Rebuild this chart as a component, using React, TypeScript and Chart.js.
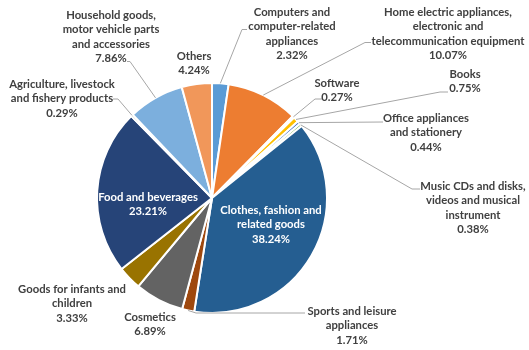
import { useEffect, useRef } from 'react';
import { Chart, registerables } from 'chart.js';

Chart.register(...registerables);

// ---- Data ----
const categories: string[][] = [
  ['Computers and', 'computer-related', 'appliances'],
  ['Home electric appliances,', 'electronic and', 'telecommunication equipment'],
  ['Software'],
  ['Books'],
  ['Office appliances', 'and stationery'],
  ['Music CDs and disks,', 'videos and musical', 'instrument'],
  ['Clothes, fashion and', 'related goods'],
  ['Sports and leisure', 'appliances'],
  ['Cosmetics'],
  ['Goods for infants and', 'children'],
  ['Food and beverages'],
  ['Agriculture, livestock', 'and fishery products'],
  ['Household goods,', 'motor vehicle parts', 'and accessories'],
  ['Others'],
];

const shares: number[] = [2.32, 10.07, 0.27, 0.75, 0.44, 0.38, 38.24, 1.71, 6.89, 3.33, 23.21, 0.29, 7.86, 4.24];

const colors: string[] = [
  '#5B9BD5', '#ED7D31', '#A5A5A5', '#FFC000', '#4472C4', '#70AD47',
  '#255E91', '#9E480E', '#636363', '#997300', '#264478', '#43682B',
  '#7CAFDD', '#F1975A',
];

// ---- Label layout (offsets from pie centre, px) ----
type LabelLayout = { dx: number; dy: number; inside?: boolean; leader?: number[][] };
const labelLayout: LabelLayout[] = [
  { dx: 80, dy: -186, leader: [[35, -168.5], [30, -168.5]] },
  { dx: 236, dy: -186, leader: [[159, -155.5], [153, -155.5]] },
  { dx: 125, dy: -115, leader: [[110, -99], [103, -99]] },
  { dx: 253, dy: -124, leader: [[236, -106], [228, -106]] },
  { dx: 214, dy: -80, leader: [[171, -76]] },
  { dx: 261, dy: -12, leader: [[208, -9], [200, -9]] },
  { dx: 59, dy: 12, inside: true },
  { dx: 140, dy: 113, leader: [[93, 115], [-16, 115]] },
  { dx: -62, dy: 119 },
  { dx: -140, dy: 91 },
  { dx: -64, dy: -1, inside: true },
  { dx: -150, dy: -114, leader: [[-99, -99], [-94, -99]] },
  { dx: -101, dy: -183, leader: [[-85, -136.5], [-82, -136.5]] },
  { dx: -18, dy: -142 },
];

const LINE_H = 14.6;
const FONT = 'bold 11.25px Lato, "Open Sans", sans-serif';

const labelPlugin = {
  id: 'pieLabels',
  afterDatasetsDraw(chart: any) {
    const ctx: CanvasRenderingContext2D = chart.ctx;
    const meta = chart.getDatasetMeta(0);
    ctx.save();
    meta.data.forEach((arc: any, i: number) => {
      const { x, y, startAngle, endAngle, outerRadius } = arc.getProps(
        ['x', 'y', 'startAngle', 'endAngle', 'outerRadius'],
        true
      );
      const mid = (startAngle + endAngle) / 2;
      const ax = x + Math.cos(mid) * outerRadius;
      const ay = y + Math.sin(mid) * outerRadius;
      const L = labelLayout[i];
      if (L.leader) {
        ctx.beginPath();
        ctx.strokeStyle = '#A6A6A6';
        ctx.lineWidth = 1;
        L.leader.forEach((p, k) => {
          if (k === 0) ctx.moveTo(x + p[0], y + p[1]);
          else ctx.lineTo(x + p[0], y + p[1]);
        });
        ctx.lineTo(ax, ay);
        ctx.stroke();
      }
      const lines = [...categories[i], shares[i].toFixed(2) + '%'];
      ctx.font = FONT;
      ctx.textAlign = 'center';
      ctx.textBaseline = 'middle';
      ctx.fillStyle = L.inside ? '#FFFFFF' : '#404040';
      lines.forEach((t, k) => {
        ctx.fillText(t, x + L.dx, y + L.dy + k * LINE_H);
      });
    });
    ctx.restore();
  },
};

export default function App() {
  const ref = useRef<HTMLCanvasElement | null>(null);
  useEffect(() => {
    if (!ref.current) return;
    const chart = new Chart(ref.current, {
      type: 'pie',
      data: {
        labels: categories,
        datasets: [
          {
            data: shares,
            backgroundColor: colors,
            borderColor: '#FFFFFF',
            borderWidth: 2,
          },
        ],
      },
      options: {
        animation: false,
        responsive: false,
        layout: { padding: { left: 96, top: 82, right: 201, bottom: 36 } },
        plugins: {
          legend: { display: false },
          tooltip: { enabled: false },
          title: { display: false },
        },
      },
      plugins: [labelPlugin],
    });
    return () => chart.destroy();
  }, []);
  return (
    <div style={{ position: 'absolute', left: 0, top: 0, width: 529, height: 350, background: '#FFFFFF' }}>
      <canvas ref={ref} width={529} height={350} />
    </div>
  );
}
